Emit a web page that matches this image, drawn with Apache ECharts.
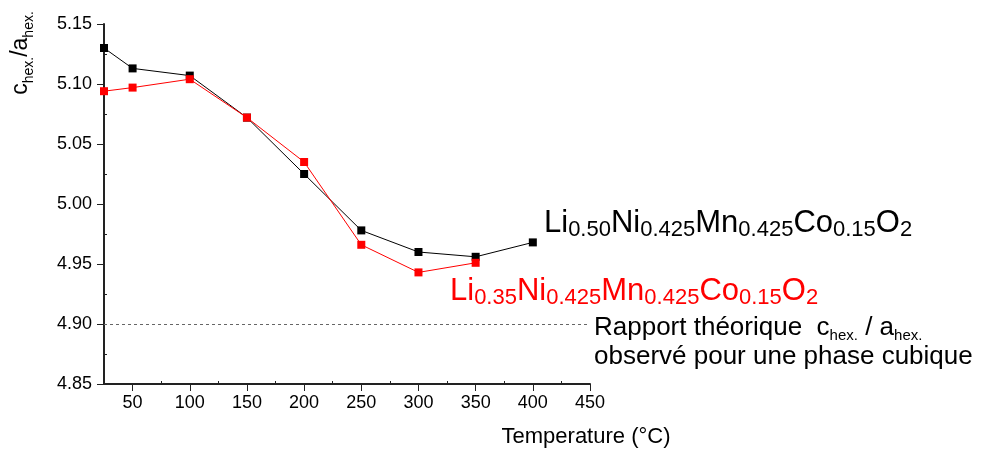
<!DOCTYPE html>
<html><head><meta charset="utf-8">
<script src="https://cdn.jsdelivr.net/npm/echarts@6/dist/echarts.min.js"></script>
<style>html,body{margin:0;padding:0;background:#fff}#c{width:983px;height:450px}</style>
</head><body><div id="c"></div>
<script>
// ---- data ----
const temperaturesLi050 = [25, 50, 100, 150, 200, 250, 300, 350, 400];
const ratioLi050 = [5.130, 5.113, 5.107, 5.072, 5.025, 4.978, 4.960, 4.956, 4.968];
const temperaturesLi035 = [25, 50, 100, 150, 200, 250, 300, 350];
const ratioLi035 = [5.094, 5.097, 5.104, 5.072, 5.035, 4.966, 4.943, 4.951];
const cubicRatio = 4.90;
const xTickLabels = [50, 100, 150, 200, 250, 300, 350, 400, 450];
const xMinorTicks = [75, 125, 175, 225, 275, 325, 375, 425];
const yTickLabels = ['4.85', '4.90', '4.95', '5.00', '5.05', '5.10', '5.15'];
const yMinorTicks = [4.875, 4.925, 4.975, 5.025, 5.075, 5.125];

const FONT = '"Liberation Sans", Arial, sans-serif';
const AX = '#222';

function pairs(xs, ys) { return xs.map((x, i) => [x, ys[i]]); }

function formula(parts) {
  // parts alternate: main, sub, main, sub ...
  return parts.map((p, i) => (i % 2 === 0 ? '{m|' : '{s|') + p + '}').join('');
}

const chart = echarts.init(document.getElementById('c'), null, { renderer: 'canvas' });

const formulaRich = (color) => ({
  m: { fontFamily: FONT, fontSize: 31, lineHeight: 31, fill: color, verticalAlign: 'bottom', padding: [0, 0, 2, 0] },
  s: { fontFamily: FONT, fontSize: 22, lineHeight: 22, fill: color, verticalAlign: 'bottom' }
});

const option = {
  animation: false,
  backgroundColor: '#fff',
  grid: { left: 104, right: 393, top: 24, bottom: 66, containLabel: false, outerBoundsMode: 'none' },
  xAxis: [{
    type: 'value', min: 25, max: 450, interval: 25,
    axisLine: { show: true, onZero: false, lineStyle: { color: AX, width: 2 } },
    axisTick: { show: true, inside: false, length: 7, customValues: xTickLabels, lineStyle: { color: AX, width: 1 } },
    axisLabel: { show: true, customValues: xTickLabels, margin: 10, fontFamily: FONT, fontSize: 18, color: '#000' },
    splitLine: { show: false }
  }, {
    type: 'value', min: 25, max: 450, interval: 25, position: 'bottom',
    axisLine: { show: false },
    axisTick: { show: true, inside: true, length: 3, customValues: xMinorTicks, lineStyle: { color: AX, width: 1 } },
    axisLabel: { show: false },
    splitLine: { show: false }
  }],
  yAxis: [{
    type: 'value', min: 4.85, max: 5.15, interval: 0.05,
    axisLine: { show: true, onZero: false, lineStyle: { color: AX, width: 2 } },
    axisTick: { show: true, inside: false, length: 7, lineStyle: { color: AX, width: 1 } },
    axisLabel: { show: true, margin: 12, fontFamily: FONT, fontSize: 18, color: '#000',
      formatter: (v) => yTickLabels.find(t => Math.abs(parseFloat(t) - v) < 1e-6) || '' },
    splitLine: { show: false }
  }, {
    type: 'value', min: 4.85, max: 5.15, interval: 0.025, position: 'left',
    axisLine: { show: false },
    axisTick: { show: true, inside: true, length: 3, customValues: yMinorTicks, lineStyle: { color: AX, width: 1 } },
    axisLabel: { show: false },
    splitLine: { show: false }
  }],
  series: [{
    name: 'Li0.50Ni0.425Mn0.425Co0.15O2',
    type: 'line', xAxisIndex: 0, yAxisIndex: 0,
    data: pairs(temperaturesLi050, ratioLi050),
    symbol: 'rect', symbolSize: 8,
    lineStyle: { color: '#000', width: 1 },
    itemStyle: { color: '#000' },
    z: 3,
    markLine: {
      silent: true, symbol: ['none', 'none'], label: { show: false },
      lineStyle: { type: [3, 3], color: '#666', width: 1 },
      data: [{ yAxis: cubicRatio }]
    }
  }, {
    name: 'Li0.35Ni0.425Mn0.425Co0.15O2',
    type: 'line', xAxisIndex: 0, yAxisIndex: 0,
    data: pairs(temperaturesLi035, ratioLi035),
    symbol: 'rect', symbolSize: 8,
    lineStyle: { color: '#ff0000', width: 1 },
    itemStyle: { color: '#ff0000' },
    z: 4
  }],
  graphic: [
    { type: 'text', x: 36, y: 53, rotation: Math.PI / 2,
      style: { text: formula(['c', 'hex.', '/a', 'hex.']), align: 'center', verticalAlign: 'bottom',
        rich: {
          m: { fontFamily: FONT, fontSize: 23, lineHeight: 23, fill: '#000', verticalAlign: 'bottom', padding: [0, 0, 4, 0] },
          s: { fontFamily: FONT, fontSize: 14, lineHeight: 14, fill: '#000', verticalAlign: 'bottom' }
        } } },
    { type: 'text', x: 586, y: 448,
      style: { text: 'Temperature (°C)', fontFamily: FONT, fontSize: 22, lineHeight: 22, fill: '#000', align: 'center', verticalAlign: 'bottom' } },
    { type: 'text', x: 544, y: 241,
      style: { text: formula(['Li', '0.50', 'Ni', '0.425', 'Mn', '0.425', 'Co', '0.15', 'O', '2']), align: 'left', verticalAlign: 'bottom', rich: formulaRich('#000') } },
    { type: 'text', x: 450, y: 309,
      style: { text: formula(['Li', '0.35', 'Ni', '0.425', 'Mn', '0.425', 'Co', '0.15', 'O', '2']), align: 'left', verticalAlign: 'bottom', rich: formulaRich('#ff0000') } },
    { type: 'text', x: 594, y: 343,
      style: { text: formula(['Rapport théorique  c', 'hex.', ' / a', 'hex.']), align: 'left', verticalAlign: 'bottom',
        rich: {
          m: { fontFamily: FONT, fontSize: 26, lineHeight: 26, fill: '#000', verticalAlign: 'bottom', padding: [0, 0, 2, 0] },
          s: { fontFamily: FONT, fontSize: 15, lineHeight: 15, fill: '#000', verticalAlign: 'bottom' }
        } } },
    { type: 'text', x: 594, y: 370,
      style: { text: 'observé pour une phase cubique', fontFamily: FONT, fontSize: 26, lineHeight: 26, fill: '#000', align: 'left', verticalAlign: 'bottom' } }
  ]
};
chart.setOption(option);
</script>
</body></html>
